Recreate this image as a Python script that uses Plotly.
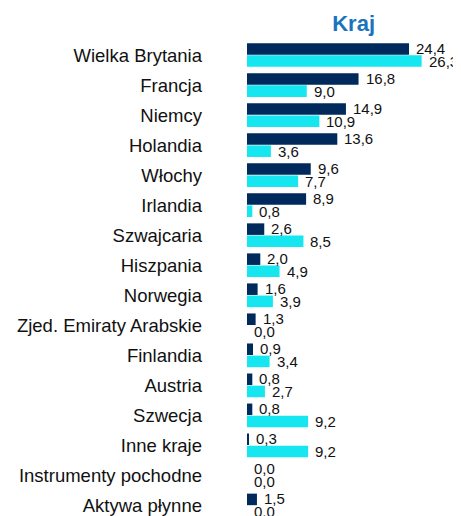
import plotly.graph_objects as go

categories = ["Wielka Brytania", "Francja", "Niemcy", "Holandia", "Włochy", "Irlandia",
              "Szwajcaria", "Hiszpania", "Norwegia", "Zjed. Emiraty Arabskie", "Finlandia",
              "Austria", "Szwecja", "Inne kraje", "Instrumenty pochodne", "Aktywa płynne"]
series_a = [24.4, 16.8, 14.9, 13.6, 9.6, 8.9, 2.6, 2.0, 1.6, 1.3, 0.9, 0.8, 0.8, 0.3, 0.0, 1.5]
series_b = [26.3, 9.0, 10.9, 3.6, 7.7, 0.8, 8.5, 4.9, 3.9, 0.0, 3.4, 2.7, 9.2, 9.2, 0.0, 0.0]
title = "Kraj"

NAVY = "#002A5C"
CYAN = "#16E6EF"

# page body has an 8px default margin; figure sized to fill the rest of the window
W, H = 453, 508

fig = go.Figure()
fig.add_trace(go.Bar(y=categories, x=series_a, orientation="h", marker=dict(color=NAVY, line=dict(width=0)), hoverinfo="skip"))
fig.add_trace(go.Bar(y=categories, x=series_b, orientation="h", marker=dict(color=CYAN, line=dict(width=0)), hoverinfo="skip"))

def fmt(v):
    return f"{v:.1f}".replace(".", ",")

annotations = []
for cat, a, b in zip(categories, series_a, series_b):
    annotations.append(dict(x=a, y=cat, xref="x", yref="y", text=fmt(a), showarrow=False,
                            xanchor="left", yanchor="middle", xshift=6, yshift=6.5, borderpad=0,
                            font=dict(family="Liberation Sans, Arial", size=15, color="#111111")))
    annotations.append(dict(x=b, y=cat, xref="x", yref="y", text=fmt(b), showarrow=False,
                            xanchor="left", yanchor="middle", xshift=6, yshift=-6.5, borderpad=0,
                            font=dict(family="Liberation Sans, Arial", size=15, color="#111111")))

fig.update_layout(
    width=W, height=H,
    margin=dict(l=239, r=14, t=32, b=0, pad=0, autoexpand=False),
    paper_bgcolor="white", plot_bgcolor="white",
    barmode="group", bargap=0.19, bargroupgap=0.05,
    showlegend=False,
    title=dict(text="<b>" + title + "</b>", x=241.5 / W, xanchor="center", xref="paper",
               yref="container", y=1 - 15 / H, yanchor="middle",
               font=dict(family="Liberation Sans, Arial", size=22, color="#1A73BE")),
    xaxis=dict(range=[0, 30.12], visible=False, fixedrange=True, automargin=False),
    yaxis=dict(type="category", categoryorder="array", categoryarray=categories,
               range=[15.35, -0.5], showgrid=False, zeroline=False, showline=False,
               ticks="", ticklabelstandoff=44, automargin=False,
               tickfont=dict(family="Liberation Sans, Arial", size=18.5, color="#111111"),
               fixedrange=True),
    annotations=annotations,
    font=dict(family="Liberation Sans, Arial"),
)

fig.write_html("out.html", config={"displayModeBar": False},
               post_script="document.body.style.overflow='hidden';")
